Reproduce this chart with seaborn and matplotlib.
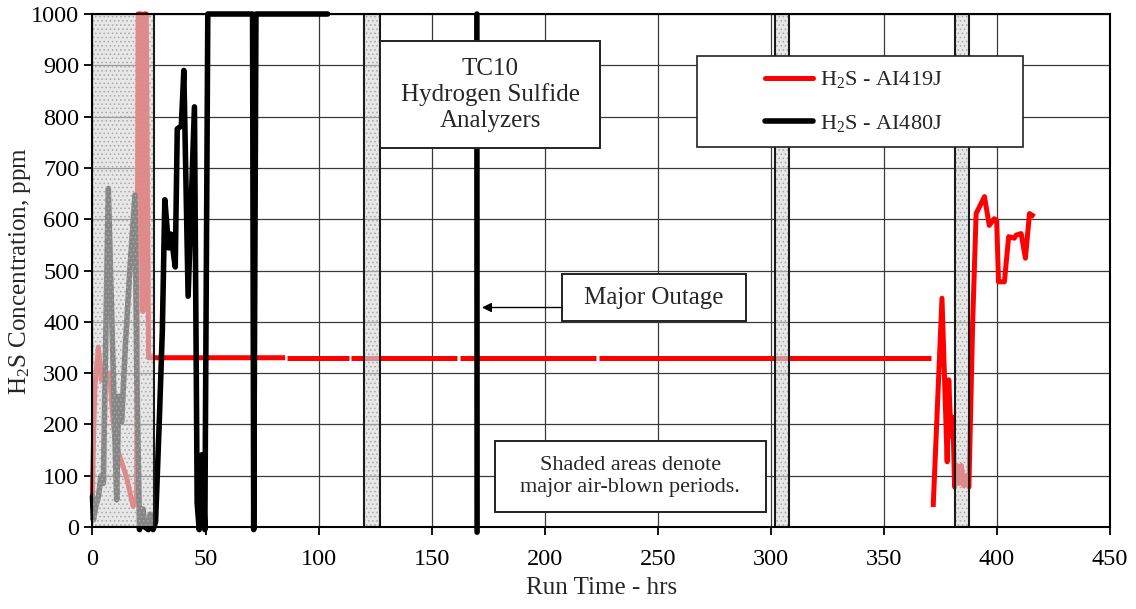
import numpy as np
import pandas as pd
import matplotlib
matplotlib.use("Agg")
import matplotlib.pyplot as plt
import seaborn as sns
from matplotlib.lines import Line2D
from matplotlib.patches import Rectangle
from matplotlib.legend_handler import HandlerLine2D

# ---------------- data ----------------
red_label = "H$_2$S - AI419J"
black_label = "H$_2$S - AI480J"

red_x = [0, 0.5, 1.1, 2.6, 4.0, 6.0, 7.7, 8.5, 10.0, 12.9, 15.0, 18.0, 19.5, 20.2, 21.5, 22.3, 23.0,
         23.8, 24.8, 25.5,
         85.2, np.nan, 86.2, 113.4, np.nan, 114.4, 161.4, np.nan, 162.4, 222.9, np.nan, 223.9, 370.8,
         np.nan, 371.8, 375.7, 378.0, 378.7, 379.7, 380.5, 381.3, 382.3, 383.3, 384.3, 385.3, 386.5,
         387.6, 389.3, 390.8, 394.5, 396.6, 398.8, 399.9, 400.7, 403.3, 405.2, 407.7, 408.5, 410.7,
         412.6, 414.4, 416.6]
red_y = [60, 180, 273, 351, 286, 300, 300, 240, 164, 127, 98, 40, 60, 1000, 1000, 420, 1000,
         1000, 330, 330,
         330, np.nan, 330, 330, np.nan, 330, 330, np.nan, 330, 330, np.nan, 330, 330,
         np.nan, 39, 446, 127, 287, 177, 214, 78, 120, 85, 120, 80, 100,
         78, 403, 611, 644, 588, 601, 598, 478, 478, 566, 563, 569, 572,
         524, 611, 605]

black_x = [0, 0.4, 1.5, 2.6, 3.8, 4.8, 7.0, 10.7, 11.6, 12.9, 14.5, 16.5, 18.8, 19.6, 20.8, 21.6,
           22.4, 23.2, 24.7, 25.6, 26.8, 27.9, 29.5, 30.9, 32.0, 33.7, 34.7, 36.6, 37.5, 39.3,
           40.4, 42.3, 45.1, 46.3, 47.2, 48.4, 49.7, 51.0, 70.8, 71.3, 72.3, 104.0,
           np.nan, 170.0, 170.1]
black_y = [60, 14, 40, 59, 100, 85, 660, 53, 255, 205, 350, 500, 647, 300, -5, 30,
           35, 0, -5, 25, -5, 10, 200, 383, 638, 544, 571, 507, 776, 782,
           890, 450, 819, 47, -5, 141, -5, 1000, 1000, -5, 1000, 1000,
           np.nan, 1000, -10]

air_blown_start = [0, 120, 302, 381.5]
air_blown_end = [27, 127, 308, 387.5]

x_ticks = list(range(0, 451, 50))
y_ticks = list(range(0, 1001, 100))


def to_frame(xs, ys):
    df = pd.DataFrame({"x": xs, "y": ys})
    df["seg"] = df["y"].isna().cumsum()
    return df.dropna()


red_df = to_frame(red_x, red_y)
black_df = to_frame(black_x, black_y)

# ---------------- styling ----------------
sns.set_theme(style="ticks")
plt.rcParams["font.family"] = ["Liberation Serif", "DejaVu Serif"]
plt.rcParams["mathtext.fontset"] = "custom"
plt.rcParams["mathtext.rm"] = "Liberation Serif"
plt.rcParams["mathtext.it"] = "Liberation Serif:italic"
plt.rcParams["mathtext.bf"] = "Liberation Serif:bold"
plt.rcParams["hatch.linewidth"] = 0.6

RED = "#ff0000"
BLACK = "#000000"

fig = plt.figure(figsize=(11.36, 6.09), dpi=100)
ax = fig.add_axes([0.0814, 0.1346, 0.9771 - 0.0814, 0.977 - 0.1346])

ax.set_xlim(0, 450)
ax.set_ylim(0, 1000)
ax.set_xticks(x_ticks)
ax.set_yticks(y_ticks)
ax.grid(True, color="#3a3a3a", linewidth=0.9, zorder=0)
ax.set_axisbelow(True)

common = dict(estimator=None, sort=False, legend=False, ax=ax,
              solid_joinstyle="round", clip_on=False)
sns.lineplot(data=red_df, x="x", y="y", units="seg", color=RED, linewidth=3.6, zorder=3,
             solid_capstyle="butt", **common)
sns.lineplot(data=black_df, x="x", y="y", units="seg", color=BLACK, linewidth=4.0, zorder=4,
             solid_capstyle="round", **common)

# shaded air-blown periods (drawn over the lines, as in the reference)
for x0, x1 in zip(air_blown_start, air_blown_end):
    ax.axvspan(x0, x1, facecolor=(0.85, 0.85, 0.85, 0.62), edgecolor="none", linewidth=0, zorder=5)
    ax.axvspan(x0, x1, facecolor="none", edgecolor="#a8a8a8", linewidth=0, hatch="....", zorder=5)
    ax.axvspan(x0, x1, facecolor="none", edgecolor="#1a1a1a", linewidth=1.5, zorder=6)

for side in ["left", "bottom", "top", "right"]:
    ax.spines[side].set_color("black")
    ax.spines[side].set_linewidth(1.5)
    ax.spines[side].set_zorder(7)

ax.tick_params(axis="both", direction="out", length=6, width=1.3, color="black",
               labelsize=17.5, labelcolor="black")
ax.tick_params(axis="x", pad=10)
ax.set_xlabel("Run Time - hrs", fontsize=18)
ax.set_ylabel("H$_2$S Concentration, ppm", fontsize=18)
ax.yaxis.set_label_coords(-0.058, 0.5)
ax.xaxis.set_label_coords(0.5, -0.098)

# ---------------- annotations ----------------
def box(x0, y0, x1, y1):
    ax.add_patch(Rectangle((x0, y0), x1 - x0, y1 - y0, transform=ax.transAxes,
                           facecolor="white", edgecolor="#222222", linewidth=1.4,
                           zorder=8, clip_on=False))

box(0.2826, 0.7388, 0.4988, 0.9474)
ax.text(0.3907, 0.843, "TC10\nHydrogen Sulfide\nAnalyzers", transform=ax.transAxes,
        ha="center", va="center", fontsize=18, linespacing=1.2, zorder=9)

box(0.4614, 0.4016, 0.6423, 0.4932)
ax.text(0.5518, 0.4474, "Major Outage", transform=ax.transAxes,
        ha="center", va="center", fontsize=18, zorder=9)
ax.annotate("", xy=(0.3828, 0.4279), xytext=(0.4614, 0.4279), xycoords="axes fraction",
            textcoords="axes fraction",
            arrowprops=dict(arrowstyle="-|>", color="black", lw=1.0, mutation_scale=14,
                            shrinkA=0, shrinkB=0), zorder=9)

box(0.3956, 0.0292, 0.6619, 0.1676)
ax.text(0.5287, 0.0984, "Shaded areas denote\nmajor air-blown periods.", transform=ax.transAxes,
        ha="center", va="center", fontsize=16, linespacing=1.15, zorder=9)

# ---------------- legend ----------------
fs_leg = 16
handles = [Line2D([], [], color=RED, linewidth=3.6),
           Line2D([], [], color=BLACK, linewidth=4.0)]
leg = ax.legend(handles, [red_label, black_label],
                loc="upper left", bbox_to_anchor=(0.5941, 0.5, 0.3204, 0.4181),
                mode="expand", borderaxespad=0, borderpad=0.6, labelspacing=1.0,
                handlelength=4.62, handletextpad=0.3, fontsize=fs_leg,
                frameon=True, fancybox=False, framealpha=1, edgecolor="#222222",
                handler_map={Line2D: HandlerLine2D(xpad=2.46)})
leg.get_frame().set_linewidth(1.2)
leg.set_zorder(10)

fig.savefig("out.png", dpi=100)
